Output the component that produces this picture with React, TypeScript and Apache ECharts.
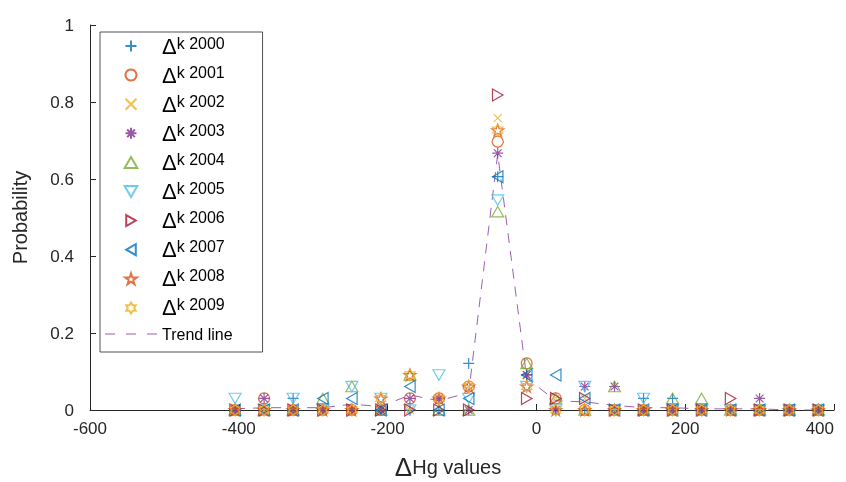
import React, { useEffect, useRef } from 'react';
import * as echarts from 'echarts';

// Bin centres (ΔHg values)
const xValues = [-405, -366, -327, -287, -248, -209, -170, -131, -91, -52, -13, 26, 65, 105, 144, 183, 222, 261, 300, 340, 379];

const years = ['2000', '2001', '2002', '2003', '2004', '2005', '2006', '2007', '2008', '2009'];

const s2000 = [0, 0, 0.030, 0, 0, 0, 0, 0, 0.121, 0.606, 0.091, 0, 0, 0, 0.030, 0.030, 0, 0, 0, 0, 0];
const s2001 = [0, 0.030, 0, 0, 0, 0, 0.030, 0.030, 0.061, 0.697, 0.121, 0.030, 0, 0, 0, 0, 0, 0, 0, 0, 0];
const s2002 = [0, 0, 0, 0, 0, 0, 0, 0.030, 0.061, 0.758, 0.091, 0.030, 0.030, 0, 0, 0, 0, 0, 0, 0, 0];
const s2003 = [0, 0.030, 0, 0, 0, 0, 0.030, 0.030, 0, 0.667, 0.091, 0, 0.061, 0.061, 0, 0, 0, 0, 0.030, 0, 0];
const s2004 = [0, 0, 0, 0.030, 0.061, 0, 0.091, 0, 0, 0.515, 0.121, 0.030, 0, 0.061, 0, 0.030, 0.030, 0, 0, 0, 0];
const s2005 = [0.030, 0, 0.030, 0, 0.061, 0.030, 0, 0.091, 0.030, 0.545, 0.061, 0, 0.061, 0, 0.030, 0, 0, 0, 0, 0, 0];
const s2006 = [0, 0, 0, 0, 0, 0, 0, 0, 0, 0.818, 0.030, 0.030, 0.030, 0, 0, 0, 0, 0.030, 0, 0, 0];
const s2007 = [0, 0, 0, 0.030, 0.030, 0, 0.061, 0, 0.030, 0.606, 0.091, 0.091, 0.030, 0, 0, 0, 0, 0, 0, 0, 0];
const s2008 = [0, 0, 0, 0, 0, 0.030, 0.091, 0.030, 0.061, 0.727, 0.061, 0, 0, 0, 0, 0, 0, 0, 0, 0, 0];
const s2009 = [0, 0, 0, 0, 0, 0.030, 0.091, 0.030, 0.061, 0.727, 0.061, 0, 0, 0, 0, 0, 0, 0, 0, 0, 0];

const trend = [0.003, 0.006, 0.006, 0.006, 0.015, 0.009, 0.039, 0.024, 0.045, 0.665, 0.083, 0.024, 0.021, 0.012, 0.006, 0.006, 0.003, 0.003, 0.003, 0, 0];

const xTicks = { min: -600, max: 400, interval: 200 };
const yTicks = { min: 0, max: 1, interval: 0.2 };

const seriesValues = [s2000, s2001, s2002, s2003, s2004, s2005, s2006, s2007, s2008, s2009];

const colors = ['#0072BD', '#D95319', '#EDB120', '#7E2F8E', '#77AC30', '#4DBEEE', '#A2142F', '#0072BD', '#D95319', '#EDB120'];
const TREND_COLOR = '#9B5FB5';

const P = {
  plus: 'path://M50 0 L50 100 M0 50 L100 50',
  circle: 'path://M50 0 A50 50 0 1 1 49.9 0 Z',
  cross: 'path://M0 0 L100 100 M100 0 L0 100',
  asterisk: 'path://M50 0 L50 100 M0 50 L100 50 M15 15 L85 85 M85 15 L15 85',
  triUp: 'path://M50 0 L100 87 L0 87 Z',
  triDown: 'path://M0 0 L100 0 L50 87 Z',
  triRight: 'path://M0 0 L87 50 L0 100 Z',
  triLeft: 'path://M87 0 L0 50 L87 100 Z',
  penta: 'path://M50 0 L61.23 34.55 L97.55 34.55 L68.17 55.9 L79.39 90.45 L50 69.1 L20.61 90.45 L31.83 55.9 L2.45 34.55 L38.77 34.55 Z',
  hexa: 'path://M50 0 L64.43 25 L93.3 25 L78.87 50 L93.3 75 L64.43 75 L50 100 L35.57 75 L6.7 75 L21.13 50 L6.7 25 L35.57 25 Z',
  dashes: 'path://M0 0 H10 V1.2 H0 Z M21 0 H31 V1.2 H21 Z M42 0 H52 V1.2 H42 Z',
};
const symbols = [P.plus, P.circle, P.cross, P.asterisk, P.triUp, P.triDown, P.triRight, P.triLeft, P.penta, P.hexa];
const sizes = [11, 11, 8, 11, 12, 12, 12, 12, 12, 12];

const FONT = '"Liberation Sans", Arial, Helvetica, sans-serif';
const TXT = '#262626';

export default function App() {
  const ref = useRef<HTMLDivElement>(null);
  useEffect(() => {
    if (!ref.current) return;
    const chart = echarts.init(ref.current, undefined, { renderer: 'svg' });
    const scatter = seriesValues.map((vals, k) => ({
      type: 'scatter',
      name: 'Δk ' + years[k],
      data: xValues.map((x, i) => [x, vals[i]]),
      symbol: symbols[k],
      symbolSize: sizes[k],
      symbolKeepAspect: true,
      itemStyle: { color: 'rgba(0,0,0,0)', borderColor: colors[k], borderWidth: 1.2 },
      emphasis: { disabled: true },
      z: 3,
    }));
    const option: any = {
      animation: false,
      textStyle: { fontFamily: FONT },
      grid: { left: 90, right: 12, top: 25, bottom: 72, containLabel: false, outerBoundsMode: 'none' },
      xAxis: {
        type: 'value',
        min: xTicks.min,
        max: xTicks.max,
        interval: xTicks.interval,
        name: '{d|Δ}{t|Hg values}',
        nameLocation: 'middle',
        nameGap: 42,
        nameTextStyle: {
          padding: [0, 28, 0, 0],
          rich: {
            d: { fontSize: 26, fontFamily: FONT, color: TXT, lineHeight: 30 },
            t: { fontSize: 20, fontFamily: FONT, color: TXT, lineHeight: 30 },
          },
        },
        axisLine: { onZero: false, lineStyle: { color: TXT, width: 1 } },
        axisTick: { inside: true, length: 6, lineStyle: { color: TXT } },
        axisLabel: { color: TXT, fontSize: 17, margin: 10, fontFamily: FONT, alignMaxLabel: 'right' },
        splitLine: { show: false },
      },
      yAxis: {
        type: 'value',
        min: yTicks.min,
        max: yTicks.max,
        interval: yTicks.interval,
        name: 'Probability',
        nameLocation: 'middle',
        nameGap: 60,
        nameTextStyle: { fontSize: 20, color: TXT, fontFamily: FONT },
        axisLine: { show: true, onZero: false, lineStyle: { color: TXT, width: 1 } },
        axisTick: { show: true, inside: true, length: 6, lineStyle: { color: TXT } },
        axisLabel: { color: TXT, fontSize: 17, margin: 16, fontFamily: FONT },
        splitLine: { show: false },
      },
      legend: {
        orient: 'vertical',
        left: 100,
        top: 32,
        itemWidth: 52,
        itemHeight: 11,
        itemGap: 7.1,
        padding: [3, 30, 10, 5],
        borderColor: TXT,
        borderWidth: 0.8,
        backgroundColor: '#fff',
        selectedMode: false,
        data: [...years.map((y) => 'Δk ' + y), { name: 'Trend line', icon: P.dashes }],
        formatter: (name: string) =>
          name === 'Trend line' ? '{t|Trend line}' : '{d|Δ}{s|' + name.slice(1) + '}',
        textStyle: {
          fontFamily: FONT,
          fontSize: 16,
          color: '#000',
          rich: {
            d: { fontSize: 22, lineHeight: 22, fontFamily: FONT, color: '#000', verticalAlign: 'bottom' },
            s: { fontSize: 16, lineHeight: 15, fontFamily: FONT, color: '#000', verticalAlign: 'top' },
            t: { fontSize: 16, lineHeight: 22, fontFamily: FONT, color: '#000' },
          },
        },
      },
      series: [
        ...scatter,
        {
          type: 'line',
          name: 'Trend line',
          data: xValues.map((x, i) => [x, trend[i]]),
          symbol: 'none',
          lineStyle: { color: TREND_COLOR, width: 1, type: [10, 8] },
          itemStyle: { color: TREND_COLOR },
          emphasis: { disabled: true },
          z: 2,
        },
      ],
    };
    chart.setOption(option);
    return () => chart.dispose();
  }, []);
  return <div ref={ref} style={{ position: 'fixed', left: 0, top: 0, width: 846, height: 482 }} />;
}
